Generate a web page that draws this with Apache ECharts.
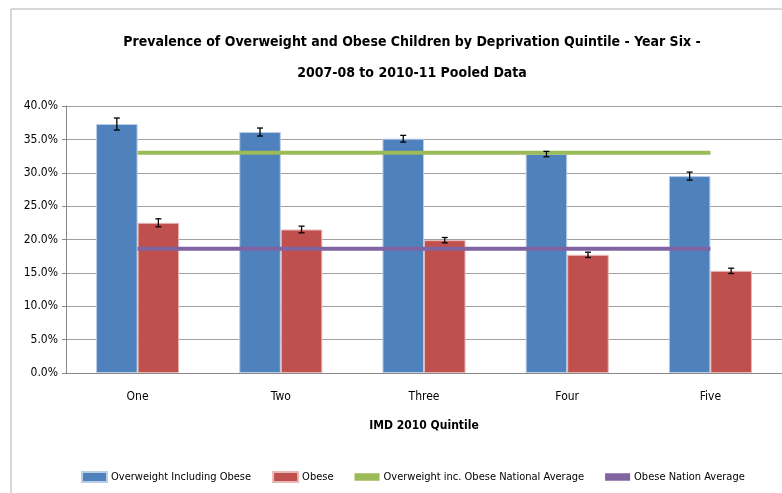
<!DOCTYPE html>
<html><head><meta charset="utf-8">
<script src="https://cdn.jsdelivr.net/npm/echarts@6/dist/echarts.min.js"></script>
<style>html,body{margin:0;padding:0;background:#fff}#c{width:782px;height:493px}</style>
</head><body><div id="c"></div>
<script>
const categories = ['One', 'Two', 'Three', 'Four', 'Five'];
const overweight = [37.3, 36.1, 35.1, 32.8, 29.5];
const overweightErr = [0.9, 0.6, 0.5, 0.4, 0.6];
const obese = [22.5, 21.5, 19.9, 17.7, 15.3];
const obeseErr = [0.6, 0.5, 0.4, 0.4, 0.4];
const overweightNational = [33.0, 33.0, 33.0, 33.0, 33.0];
const obeseNational = [18.6, 18.6, 18.6, 18.6, 18.6];

const FONT = '"DejaVu Sans Condensed", "Liberation Sans Narrow", sans-serif';
const chart = echarts.init(document.getElementById('c'));

function errSeries(vals, errs, idx) {
  return {
    type: 'custom', name: 'err' + idx, z: 10, silent: true,
    data: vals.map((v, i) => [i, v - errs[i], v + errs[i]]),
    renderItem: function (params, api) {
      const lo = api.coord([api.value(0), api.value(1)]);
      const hi = api.coord([api.value(0), api.value(2)]);
      const bw = api.size([1, 0])[0];
      const barW = bw * 0.29;
      const x = lo[0] + (idx === 0 ? -barW / 2 : barW / 2);
      const h = 3;
      const st = { stroke: '#000', lineWidth: 1.3 };
      return { type: 'group', children: [
        { type: 'line', shape: { x1: x, y1: lo[1], x2: x, y2: hi[1] }, style: st },
        { type: 'line', shape: { x1: x - h, y1: lo[1], x2: x + h, y2: lo[1] }, style: st },
        { type: 'line', shape: { x1: x - h, y1: hi[1], x2: x + h, y2: hi[1] }, style: st }
      ]};
    }
  };
}

chart.setOption({
  animation: false,
  textStyle: { fontFamily: FONT },
  graphic: [{ type: 'rect', shape: { x: 11, y: 9, width: 800, height: 500 }, style: { fill: 'none', stroke: '#b0b0b0', lineWidth: 1 }, silent: true }],
  title: {
    text: 'Prevalence of Overweight and Obese Children by Deprivation Quintile - Year Six -\n2007-08 to 2010-11 Pooled Data',
    left: 407, textAlign: 'center', top: 22,
    textStyle: { fontFamily: FONT, fontSize: 14, fontWeight: 'bold', color: '#000', lineHeight: 31 }
  },
  legend: {
    top: 466, left: 76, itemGap: 21, itemWidth: 25, itemHeight: 10,
    textStyle: { fontFamily: FONT, fontSize: 11, color: '#000', padding: [0, 0, 0, -1] },
    data: [
      { name: 'Overweight Including Obese', icon: 'rect' },
      { name: 'Obese', icon: 'rect' },
      { name: 'Overweight inc. Obese National Average', icon: 'path://M0,0H10V3H0Z' },
      { name: 'Obese Nation Average', icon: 'path://M0,0H10V3H0Z' }
    ]
  },
  grid: { left: 66, right: -3, top: 106, bottom: 120 },
  xAxis: {
    type: 'category', data: categories,
    name: 'IMD 2010 Quintile', nameLocation: 'middle', nameGap: 47,
    nameTextStyle: { fontFamily: FONT, fontSize: 12, fontWeight: 'bold', color: '#000' },
    axisLine: { lineStyle: { color: '#888' } },
    axisTick: { show: false },
    axisLabel: { fontFamily: FONT, fontSize: 12, color: '#000', margin: 18 }
  },
  yAxis: {
    type: 'value', min: 0, max: 40, interval: 5,
    axisLine: { show: true, lineStyle: { color: '#888' } },
    axisTick: { show: true, length: 4, lineStyle: { color: '#888' } },
    splitLine: { lineStyle: { color: '#a0a0a0', width: 1 } },
    axisLabel: { fontFamily: FONT, fontSize: 12, color: '#000', margin: 8, formatter: v => v.toFixed(1) + '%' }
  },
  series: [
    { name: 'Overweight Including Obese', type: 'bar', data: overweight, barWidth: '29%', barGap: '0%',
      itemStyle: { color: '#4f81bd', borderColor: '#b9cde5', borderWidth: 1 } },
    { name: 'Obese', type: 'bar', data: obese, barWidth: '29%',
      itemStyle: { color: '#c0504d', borderColor: '#e6b9b8', borderWidth: 1 } },
    { name: 'Overweight inc. Obese National Average', type: 'line', data: overweightNational, symbol: 'none', z: 5,
      lineStyle: { color: '#9bbb59', width: 4 }, itemStyle: { color: '#9bbb59' } },
    { name: 'Obese Nation Average', type: 'line', data: obeseNational, symbol: 'none', z: 5,
      lineStyle: { color: '#8064a2', width: 4 }, itemStyle: { color: '#8064a2' } },
    errSeries(overweight, overweightErr, 0),
    errSeries(obese, obeseErr, 1)
  ]
});
</script></body></html>
